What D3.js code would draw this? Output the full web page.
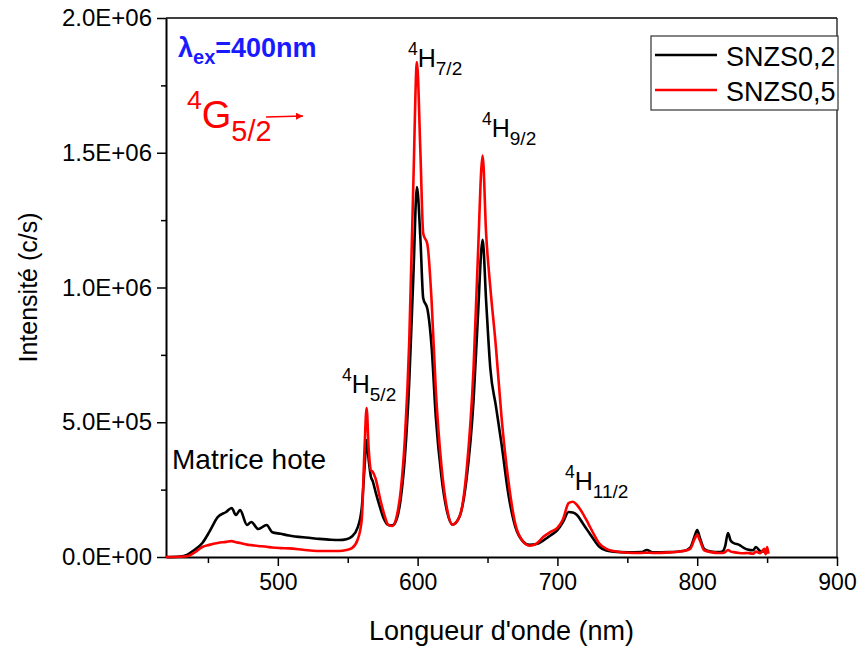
<!DOCTYPE html>
<meta charset="utf-8">
<script src="https://d3js.org/d3.v7.min.js"></script>
<style>
  body { margin: 0; background: #fff; }
  text { font-family: "Liberation Sans", Arial, sans-serif; }
</style>
<div id="chart"></div>
<script>

// wavelength (nm)
var wavelength = [420, 430, 435, 440, 446, 451, 457, 463, 467, 470, 473, 478, 481, 486, 492, 496, 502, 508, 518, 528,
  538, 544, 549, 553, 557, 560, 562, 563.5, 565, 566.5, 568, 570, 573, 576, 579, 582, 585, 588, 591, 594,
  597, 599.5, 602, 604, 607, 610, 613, 617, 621, 625, 630, 635, 640, 643, 646.5, 649, 652, 656, 660, 665,
  670, 675, 680, 685, 690, 695, 700, 704, 708, 711, 714, 718, 722, 726, 730, 735, 740, 750, 760, 764,
  768, 780, 790, 795, 798, 800, 802, 805, 810, 815, 818, 820, 822, 824, 826, 830, 833, 836, 840, 842,
  845, 848, 849, 850, 851];

// intensities in units of 1E+03 c/s
var snzs02 = [0, 2, 8, 25, 52, 93, 148, 167, 182, 156, 174, 119, 130, 104, 119, 92, 86, 80, 73, 68,
  64, 63, 66, 76, 108, 180, 330, 434, 360, 300, 280, 240, 186, 140, 119, 118, 140, 220, 380, 650,
  1050, 1373, 1180, 960, 920, 780, 520, 300, 170, 120, 150, 290, 580, 880, 1177, 950, 700, 560, 420, 230,
  110, 60, 45, 48, 62, 80, 100, 130, 167, 165, 156, 126, 95, 65, 38, 24, 20, 17, 18, 26,
  17, 18, 22, 35, 75, 100, 70, 30, 20, 18, 20, 40, 89, 60, 52, 45, 35, 28, 25, 37,
  22, 20, 18, 20, 18];

var snzs05 = [0, 1, 3, 15, 37, 45, 52, 56, 59, 55, 52, 46, 44, 41, 38, 35, 33, 32, 27, 22,
  22, 22, 26, 33, 63, 137, 400, 553, 400, 323, 315, 290, 220, 160, 119, 115, 150, 250, 450, 800,
  1400, 1837, 1500, 1200, 1160, 950, 620, 340, 180, 120, 150, 320, 700, 1100, 1490, 1200, 1000, 780, 520, 280,
  120, 60, 42, 50, 75, 93, 108, 140, 200, 205, 193, 163, 125, 85, 50, 30, 22, 16, 15, 16,
  15, 17, 22, 30, 65, 82, 60, 25, 18, 15, 15, 18, 26, 20, 18, 15, 14, 15, 12, 20,
  14, 30, 10, 37, 12];

var seriesNames = ["SNZS0,2", "SNZS0,5"];
var seriesColors = ["#000000", "#ff0000"];

var xTicks = [500, 600, 700, 800, 900];
var xMinor = [450, 550, 650, 750, 850];
var yTicks = [0, 500, 1000, 1500, 2000];
var yMinor = [250, 750, 1250, 1750];

var W = 857, H = 647;
var margin = {top: 18, right: 20, bottom: 90, left: 166};
var width = W - margin.left - margin.right,
    height = H - margin.top - margin.bottom;

var svg = d3.select("#chart").append("svg")
    .attr("width", W)
    .attr("height", H);

var g = svg.append("g")
    .attr("transform", "translate(" + margin.left + "," + margin.top + ")");

var x = d3.scaleLinear().domain([420, 900]).range([0, width]);
var y = d3.scaleLinear().domain([0, 2000]).range([height, 0]);

// 1.0E+06 style labels
function sci(v) {
  var val = v * 1000;
  if (val === 0) return "0.0E+00";
  var e = Math.floor(Math.log10(val));
  var m = val / Math.pow(10, e);
  return m.toFixed(1) + "E+" + (e < 10 ? "0" : "") + e;
}

// minor ticks first
g.append("g")
    .attr("transform", "translate(0," + height + ")")
    .call(d3.axisBottom(x).tickValues(xMinor).tickSize(6).tickFormat(""))
    .call(function(a) { a.select(".domain").remove(); })
    .selectAll("line").attr("stroke-width", 1.5);

g.append("g")
    .call(d3.axisLeft(y).tickValues(yMinor).tickSize(5).tickFormat(""))
    .call(function(a) { a.select(".domain").remove(); })
    .selectAll("line").attr("stroke-width", 1.5);

var xAxis = g.append("g")
    .attr("transform", "translate(0," + height + ")")
    .call(d3.axisBottom(x).tickValues(xTicks).tickSize(9).tickSizeOuter(0).tickPadding(8));
xAxis.selectAll("text").attr("font-size", 23).attr("font-family", "Liberation Sans, Arial, sans-serif").attr("fill", "#000");
xAxis.selectAll("line").attr("stroke-width", 1.5);
xAxis.select(".domain").attr("stroke-width", 2);

var yAxis = g.append("g")
    .call(d3.axisLeft(y).tickValues(yTicks).tickFormat(sci).tickSize(9).tickSizeOuter(0).tickPadding(5));
yAxis.selectAll("text").attr("font-size", 24).attr("font-family", "Liberation Sans, Arial, sans-serif").attr("fill", "#000");
yAxis.selectAll("line").attr("stroke-width", 1.5);
yAxis.select(".domain").attr("stroke-width", 2);

// frame top and right
g.append("line").attr("x1", 0).attr("x2", width).attr("y1", 0).attr("y2", 0)
    .attr("stroke", "#000").attr("stroke-width", 1.5);
g.append("line").attr("x1", width).attr("x2", width).attr("y1", 0).attr("y2", height)
    .attr("stroke", "#000").attr("stroke-width", 1.2);

// spectra
var line = d3.line()
    .x(function(d) { return x(d[0]); })
    .y(function(d) { return y(d[1]); })
    .curve(d3.curveMonotoneX);

[snzs02, snzs05].forEach(function(s, i) {
  g.append("path")
      .datum(wavelength.map(function(w, k) { return [w, s[k]]; }))
      .attr("fill", "none")
      .attr("stroke", seriesColors[i])
      .attr("stroke-width", 2.6)
      .attr("stroke-linejoin", "round")
      .attr("d", line);
});

// axis titles
svg.append("text")
    .attr("x", margin.left + width / 2)
    .attr("y", 640)
    .attr("text-anchor", "middle")
    .attr("font-size", 27)
    .text("Longueur d'onde (nm)");

svg.append("text")
    .attr("transform", "translate(37," + (margin.top + height / 2) + ") rotate(-90)")
    .attr("text-anchor", "middle")
    .attr("font-size", 25)
    .text("Intensité (c/s)");

// legend
var leg = svg.append("g");
leg.append("rect")
    .attr("x", 651).attr("y", 36).attr("width", 187).attr("height", 74)
    .attr("fill", "#fff").attr("stroke", "#333").attr("stroke-width", 1.2);
seriesNames.forEach(function(n, i) {
  var yy = 55 + i * 35;
  leg.append("line").attr("x1", 655).attr("x2", 717).attr("y1", yy).attr("y2", yy)
      .attr("stroke", seriesColors[i]).attr("stroke-width", 2.6);
  leg.append("text").attr("x", 726).attr("y", yy + 11)
      .attr("font-size", 27).text(n);
});

// term labels 4L_j
function term(px, py, L, j, size, color) {
  var t = svg.append("text").attr("x", px).attr("y", py).attr("fill", color || "#000");
  t.append("tspan").attr("font-size", size * 0.7).attr("dy", -size * 0.5).text("4");
  t.append("tspan").attr("font-size", size).attr("dy", size * 0.5).text(L);
  t.append("tspan").attr("font-size", size * 0.76).attr("dy", size * 0.33).text(j);
  return t;
}

term(342, 393, "H", "5/2", 25);
term(408, 67, "H", "7/2", 25);
term(482, 137, "H", "9/2", 25);
term(565, 490, "H", "11/2", 25);

svg.append("text").attr("x", 172).attr("y", 469)
    .attr("font-size", 28).text("Matrice hote");

// 4G5/2 with arrow
term(187, 128, "G", "5/2", 38, "#ff0000");
svg.append("defs").append("marker")
    .attr("id", "arr").attr("viewBox", "0 0 10 10").attr("refX", 10).attr("refY", 5)
    .attr("markerWidth", 13).attr("markerHeight", 7).attr("markerUnits", "userSpaceOnUse")
    .attr("orient", "auto")
  .append("path").attr("d", "M0,0 L10,5 L0,10 z").attr("fill", "#ff0000");
svg.append("line").attr("x1", 266).attr("x2", 303).attr("y1", 117).attr("y2", 116)
    .attr("stroke", "#ff0000").attr("stroke-width", 1.3).attr("marker-end", "url(#arr)");

// excitation
var ex = svg.append("text").attr("x", 178).attr("y", 57)
    .attr("fill", "#1a1aff").attr("font-weight", "bold").attr("font-size", 27);
ex.append("tspan").text("λ");
ex.append("tspan").attr("font-size", 20).attr("dy", 7).text("ex");
ex.append("tspan").attr("dy", -7).text("=400nm");

</script>
